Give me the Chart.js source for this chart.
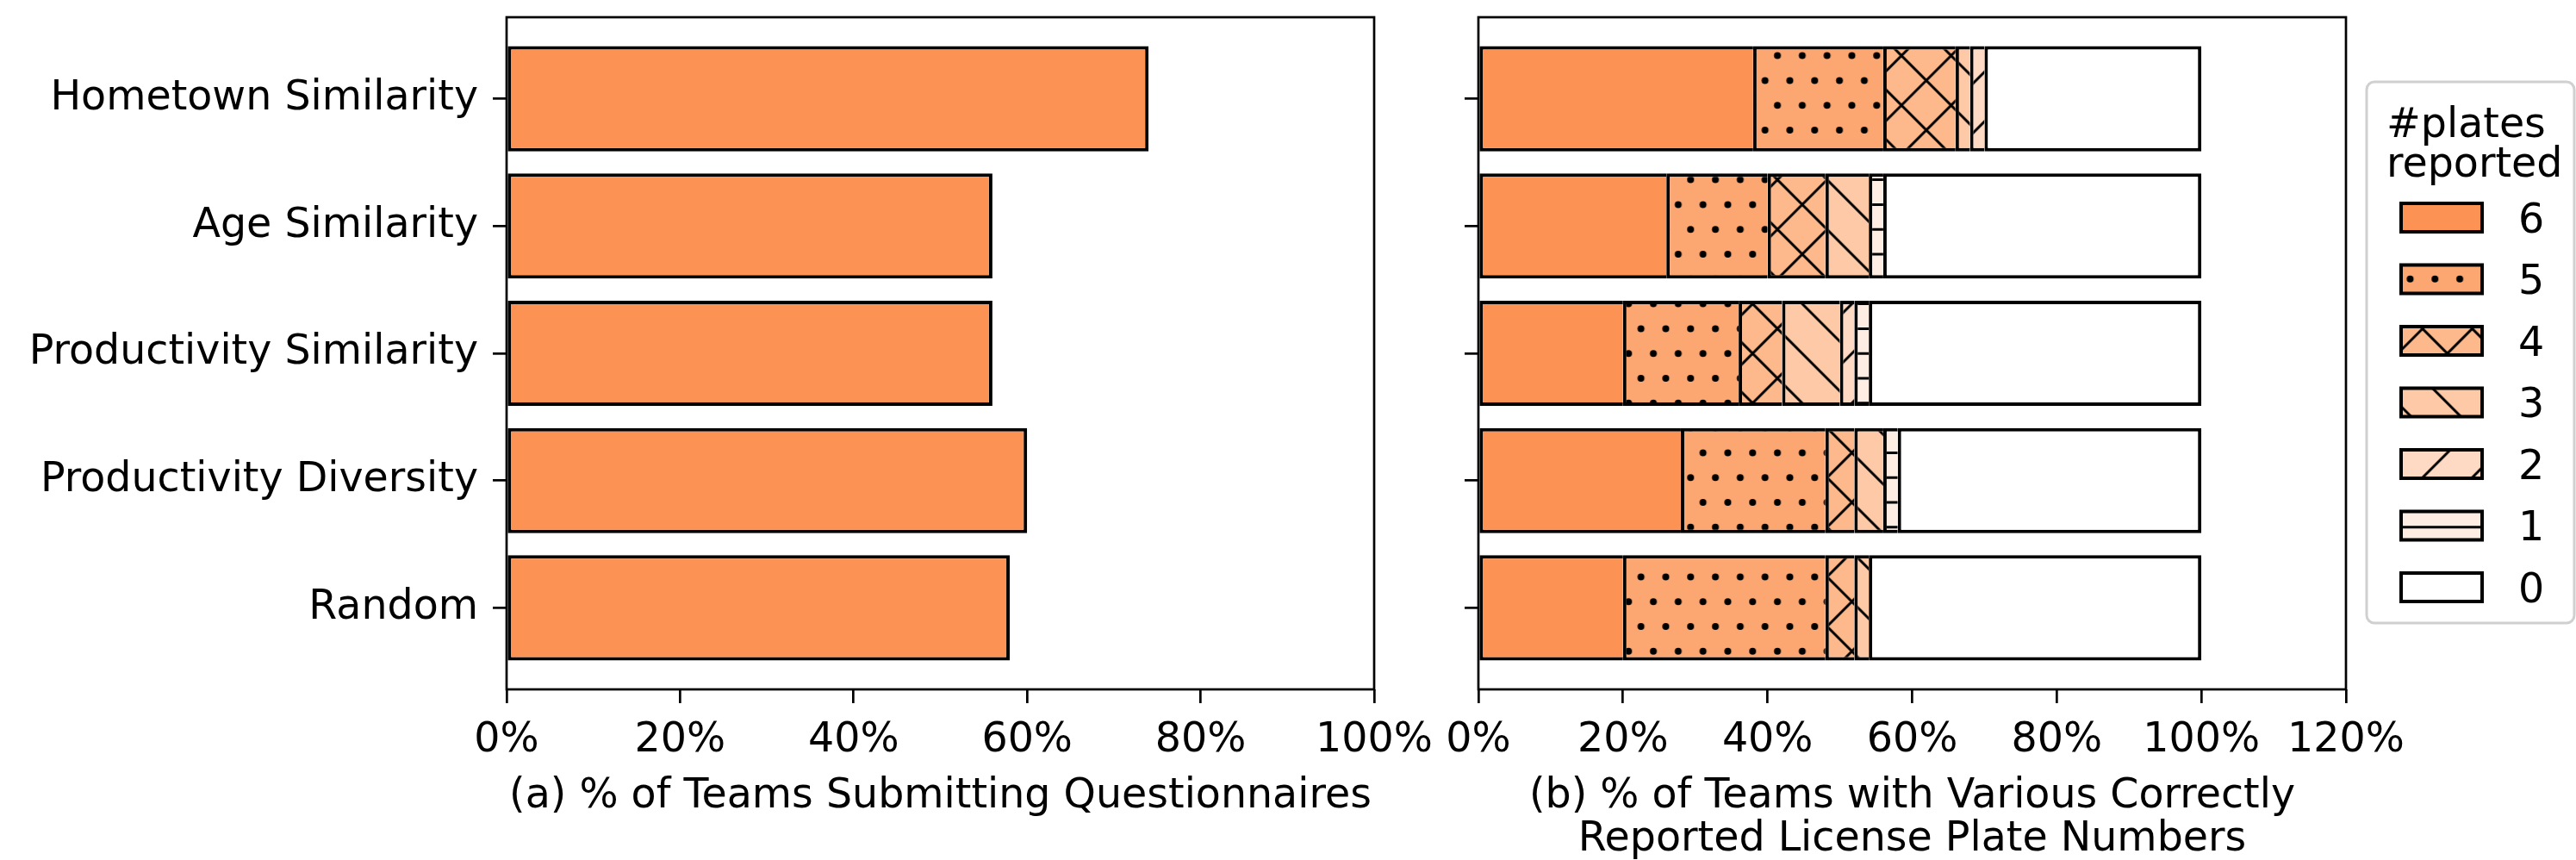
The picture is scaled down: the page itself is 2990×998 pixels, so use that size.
<!DOCTYPE html>
<html>
<head>
<meta charset="utf-8">
<script src="https://cdn.jsdelivr.net/npm/chart.js@4.4.1/dist/chart.umd.min.js"></script>
<style>
  html, body { margin: 0; padding: 0; background: #fff; }
  #wrap { position: relative; width: 2990px; height: 998px; overflow: hidden; }
  #wrap canvas { position: absolute; left: 0; top: 0; }
</style>
</head>
<body>
<div id="wrap">
  <canvas id="leftPanel" width="2990" height="998"></canvas>
  <canvas id="rightPanel" width="2990" height="998"></canvas>
</div>
<script>
// ---- data ----
const categories = ['Hometown Similarity', 'Age Similarity', 'Productivity Similarity', 'Productivity Diversity', 'Random'];
const submittedPct = [74, 56, 56, 60, 58];

const plateCounts = ['6', '5', '4', '3', '2', '1', '0'];
const plates6 = [38, 26, 20, 28, 20];
const plates5 = [18, 14, 16, 20, 28];
const plates4 = [10, 8, 6, 4, 4];
const plates3 = [2, 6, 8, 4, 2];
const plates2 = [2, 0, 2, 0, 0];
const plates1 = [0, 2, 2, 2, 0];
const plates0 = [30, 44, 46, 42, 46];

const leftTicks = [0, 20, 40, 60, 80, 100];
const rightTicks = [0, 20, 40, 60, 80, 100, 120];

const leftTitle = '(a) % of Teams Submitting Questionnaires';
const rightTitle = ['(b) % of Teams with Various Correctly', 'Reported License Plate Numbers'];
const legendTitle = ['#plates', 'reported'];

// ---- styles ----
const FONT = "'DejaVu Sans', sans-serif";
const FS = 47.5;
const barColor = '#fc9355';
const plateColors = ['#fc9355', '#fca772', '#fdb98b', '#fdc9a6', '#fedac4', '#feede2', '#ffffff'];
const plateHatch = ['', 'dots', 'x', '\\', '/', '-', ''];

Chart.defaults.font.family = FONT;
Chart.defaults.font.size = FS;
Chart.defaults.color = '#000';

// Hatch fills: a tile holding 10 repeats so the period can be fractional
const HP = 57.6;
function makeFill(color, kind) {
  if (!kind) return color;
  const n = 10, S = HP * n;
  const c = document.createElement('canvas');
  c.width = S; c.height = S;
  const g = c.getContext('2d');
  g.fillStyle = color;
  g.fillRect(0, 0, S, S);
  g.strokeStyle = '#000';
  g.fillStyle = '#000';
  g.lineWidth = 3;
  if (kind === 'dots') {
    for (let r = 0; r <= 2 * n; r++) {
      const y = r * HP / 2;
      const off = (r % 2) ? HP / 4 : 0;
      for (let k = -1; k <= 2 * n + 1; k++) {
        g.beginPath();
        g.arc(off + k * HP / 2, y, 4, 0, Math.PI * 2);
        g.fill();
      }
    }
  }
  if (kind === '/' || kind === 'x') {
    for (let k = 0; k <= 2 * n; k++) {
      g.beginPath(); g.moveTo(k * HP, 0); g.lineTo(k * HP - S, S); g.stroke();
    }
  }
  if (kind === '\\' || kind === 'x') {
    for (let k = -n; k <= n; k++) {
      g.beginPath(); g.moveTo(k * HP, 0); g.lineTo(k * HP + S, S); g.stroke();
    }
  }
  if (kind === '-') {
    for (let r = 0; r <= 2 * n; r++) {
      const y = r * HP / 2;
      g.beginPath(); g.moveTo(0, y); g.lineTo(S, y); g.stroke();
    }
  }
  const pat = g.createPattern(c, 'repeat');
  pat.setTransform(new DOMMatrix().translate(18.3, 7));
  return pat;
}

// black frame around the plot area, drawn over the bars
const framePlugin = {
  id: 'frame',
  afterDatasetsDraw(chart) {
    const { ctx, chartArea: a } = chart;
    ctx.save();
    ctx.strokeStyle = '#000';
    ctx.lineWidth = 2.7;
    ctx.strokeRect(a.left, a.top, a.right - a.left, a.bottom - a.top);
    ctx.restore();
  }
};

// legend box for the stacked panel
const plateLegend = {
  id: 'plateLegend',
  afterDraw(chart) {
    const ctx = chart.ctx;
    const x0 = 2747, y0 = 95, x1 = 2988, y1 = 723, rad = 9;
    ctx.save();
    ctx.beginPath();
    ctx.moveTo(x0 + rad, y0);
    ctx.lineTo(x1 - rad, y0); ctx.arcTo(x1, y0, x1, y0 + rad, rad);
    ctx.lineTo(x1, y1 - rad); ctx.arcTo(x1, y1, x1 - rad, y1, rad);
    ctx.lineTo(x0 + rad, y1); ctx.arcTo(x0, y1, x0, y1 - rad, rad);
    ctx.lineTo(x0, y0 + rad); ctx.arcTo(x0, y0, x0 + rad, y0, rad);
    ctx.closePath();
    ctx.fillStyle = '#fff';
    ctx.fill();
    ctx.strokeStyle = '#d0d0d0';
    ctx.lineWidth = 3;
    ctx.stroke();

    ctx.fillStyle = '#000';
    ctx.font = FS + 'px ' + FONT;
    ctx.textAlign = 'left';
    ctx.textBaseline = 'alphabetic';
    legendTitle.forEach((t, i) => ctx.fillText(t, 2770, 159 + i * 46));

    chart.data.datasets.forEach((ds, i) => {
      const cy = 252.5 + i * 71.5;
      ctx.fillStyle = ds.backgroundColor;
      ctx.fillRect(2787, cy - 16.5, 94, 33);
      ctx.strokeStyle = '#000';
      ctx.lineWidth = 4;
      ctx.strokeRect(2787, cy - 16.5, 94, 33);
      ctx.fillStyle = '#000';
      ctx.fillText(ds.label, 2923, cy + 17);
    });
    ctx.restore();
  }
};

function categoryAxis(width, showLabels) {
  return {
    type: 'linear',
    reverse: true,
    min: -0.64,
    max: 4.64,
    offset: false,
    afterBuildTicks: s => { s.ticks = categories.map((_, i) => ({ value: i })); },
    afterFit: s => {
      s.width = width;
      s.paddingTop = 0; s.paddingBottom = 0; s.paddingLeft = 0; s.paddingRight = 0;
    },
    ticks: {
      autoSkip: false,
      padding: 17,
      callback: (v) => showLabels ? categories[Math.round(v)] : ''
    },
    grid: {
      offset: false,
      drawOnChartArea: false,
      drawTicks: true,
      tickLength: 16,
      tickWidth: 2.7,
      tickColor: '#000',
      color: '#000',
      lineWidth: 2.7
    },
    border: { display: false }
  };
}

function valueAxis(maxVal, tickVals, title, padBottom) {
  return {
    type: 'linear',
    min: 0,
    max: maxVal,
    afterBuildTicks: s => { s.ticks = tickVals.map(v => ({ value: v })); },
    afterFit: s => {
      s.height = 198;
      s.paddingTop = 0; s.paddingBottom = 0; s.paddingLeft = 0; s.paddingRight = 0;
    },
    ticks: { autoSkip: false, maxRotation: 0, padding: 15, callback: v => v + '%' },
    grid: {
      drawOnChartArea: false,
      drawTicks: true,
      tickLength: 16,
      tickWidth: 2.7,
      tickColor: '#000',
      color: '#000',
      lineWidth: 2.7
    },
    border: { display: false },
    title: {
      display: true,
      text: title,
      font: { size: FS, lineHeight: 50 / FS },
      padding: { top: 0, bottom: padBottom }
    }
  };
}

const common = {
  indexAxis: 'y',
  responsive: false,
  devicePixelRatio: 1,
  animation: false,
  events: [],
  plugins: { legend: { display: false }, tooltip: { enabled: false } }
};

// (a) questionnaires
new Chart(document.getElementById('leftPanel'), {
  type: 'bar',
  data: {
    datasets: [{
      label: 'Submitted',
      data: submittedPct.map((v, i) => ({ x: v, y: i })),
      backgroundColor: barColor,
      borderColor: '#000',
      borderWidth: 4,
      borderSkipped: false,
      barPercentage: 1.034,
      categoryPercentage: 0.8
    }]
  },
  options: Object.assign({}, common, {
    layout: { padding: { left: 0, top: 20, right: 2990 - 1595, bottom: 0 } },
    scales: {
      y: categoryAxis(588, true),
      x: valueAxis(100, leftTicks, leftTitle, 48)
    }
  }),
  plugins: [framePlugin]
});

// (b) plates reported, stacked
const plateSeries = [plates6, plates5, plates4, plates3, plates2, plates1, plates0];
new Chart(document.getElementById('rightPanel'), {
  type: 'bar',
  data: {
    datasets: plateSeries.map((vals, k) => ({
      label: plateCounts[k],
      data: vals.map((v, i) => ({ x: v, y: i })),
      backgroundColor: makeFill(plateColors[k], plateHatch[k]),
      borderColor: '#000',
      borderWidth: { top: 4, bottom: 4, left: 4, right: k === plateSeries.length - 1 ? 4 : 0 },
      borderSkipped: false,
      barPercentage: 1.034,
      categoryPercentage: 0.8
    }))
  },
  options: Object.assign({}, common, {
    layout: { padding: { left: 0, top: 20, right: 2990 - 2723, bottom: 0 } },
    scales: {
      y: Object.assign(categoryAxis(1716, false), { stacked: true }),
      x: Object.assign(valueAxis(120, rightTicks, rightTitle, -2), { stacked: true })
    }
  }),
  plugins: [framePlugin, plateLegend]
});
</script>
</body>
</html>
